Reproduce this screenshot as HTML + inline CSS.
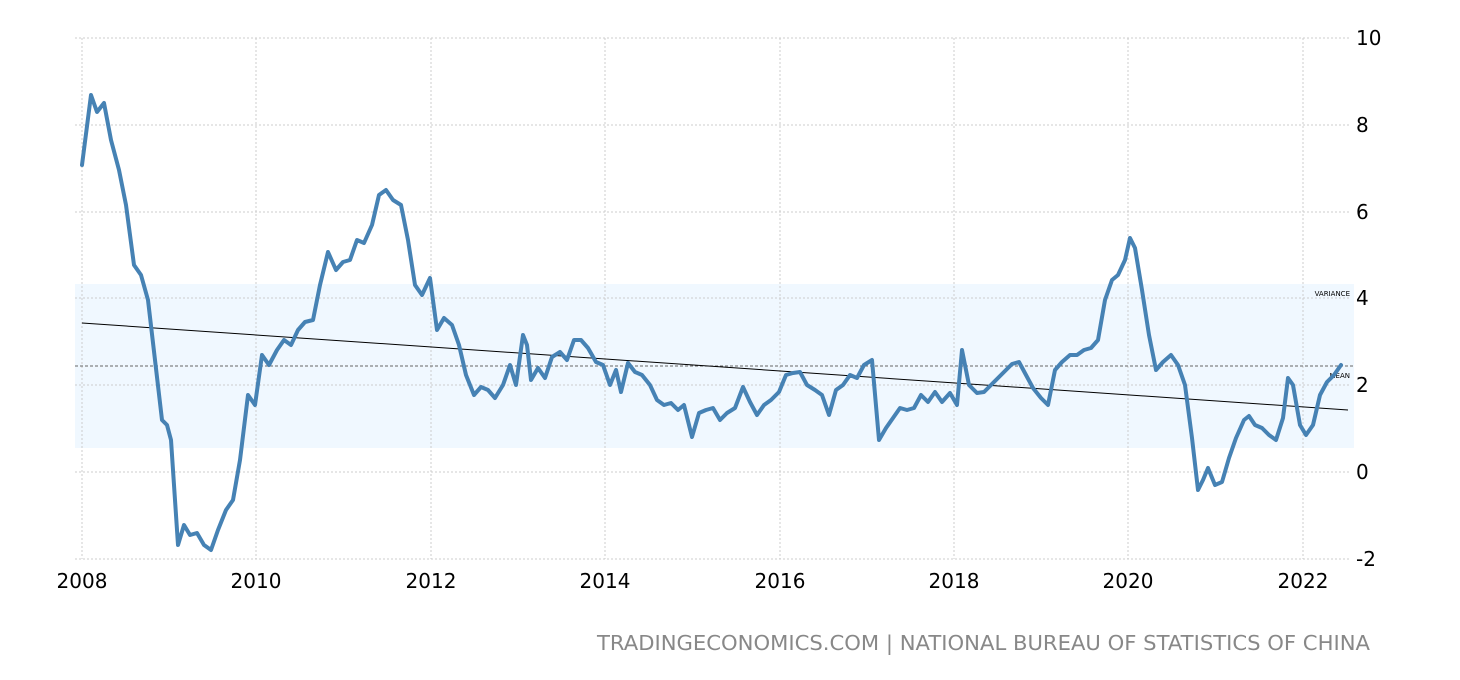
<!DOCTYPE html>
<html><head><meta charset="utf-8"><style>
body{margin:0;background:#fff}
svg{display:block;font-family:"DejaVu Sans","Liberation Sans",sans-serif}
</style></head><body>
<svg width="1460" height="680" viewBox="0 0 1460 680">
<rect x="75" y="284" width="1279" height="164" fill="#f0f8ff"/>
<g stroke="#ccc" stroke-dasharray="2,2" stroke-width="1">
<line x1="75" y1="38" x2="1350" y2="38"/><line x1="75" y1="125" x2="1350" y2="125"/>
<line x1="75" y1="212" x2="1350" y2="212"/><line x1="75" y1="298" x2="1350" y2="298"/>
<line x1="75" y1="385" x2="1350" y2="385"/><line x1="75" y1="472" x2="1350" y2="472"/>
<line x1="75" y1="559" x2="1350" y2="559"/>
<line x1="82" y1="38" x2="82" y2="559"/><line x1="256" y1="38" x2="256" y2="559"/>
<line x1="431" y1="38" x2="431" y2="559"/><line x1="605" y1="38" x2="605" y2="559"/>
<line x1="780" y1="38" x2="780" y2="559"/><line x1="954" y1="38" x2="954" y2="559"/>
<line x1="1128" y1="38" x2="1128" y2="559"/><line x1="1303" y1="38" x2="1303" y2="559"/>
</g>
<line x1="75" y1="366" x2="1354" y2="366" stroke="#666" stroke-dasharray="3,2" stroke-width="1"/>
<text x="1350" y="296" font-size="7" text-anchor="end" fill="#000">VARIANCE</text>
<text x="1350" y="378" font-size="7" text-anchor="end" fill="#000">MEAN</text>
<line x1="82" y1="323" x2="1348" y2="410" stroke="#000" stroke-width="1"/>
<polyline fill="none" stroke="#4682b4" stroke-width="4" stroke-linejoin="round" stroke-linecap="round" points="82,165 91,95 97,112 104,103 111,140 119,170 126,205 134,265 141,275 148,300 155,360 162,420 167,425 171,440 178,545 184,525 190,535 197,533 204,545 211,550 218,530 226,510 233,500 240,460 248,395 255,405 262,355 269,365 277,350 284,340 291,345 298,330 305,322 313,320 320,285 328,252 336,270 343,262 350,260 357,240 364,243 372,225 379,195 386,190 393,200 401,205 408,240 415,285 422,295 430,278 437,330 444,318 452,325 459,345 466,375 474,395 481,387 488,390 495,398 503,385 510,365 516,385 523,335 527,345 531,380 538,368 545,378 552,357 560,352 567,360 574,340 581,340 588,348 596,362 603,365 610,385 616,370 621,392 628,363 635,372 642,375 650,385 657,400 664,405 671,403 678,410 684,405 692,437 699,413 706,410 713,408 720,420 727,413 735,408 743,387 750,402 757,415 764,405 771,400 779,392 786,375 793,373 800,372 807,385 815,390 822,395 829,415 836,390 843,385 850,375 857,378 864,365 872,360 879,440 886,428 893,418 900,408 907,410 914,408 921,395 928,402 935,392 942,402 950,393 957,405 962,350 969,385 977,393 984,392 991,385 998,378 1005,371 1012,364 1019,362 1026,375 1033,388 1041,398 1048,405 1055,370 1062,362 1070,355 1077,355 1084,350 1091,348 1098,340 1105,300 1112,280 1118,275 1125,260 1130,238 1135,248 1142,290 1149,335 1156,370 1163,362 1171,355 1178,365 1185,385 1192,438 1198,490 1203,480 1208,468 1215,485 1222,482 1229,458 1236,438 1244,420 1249,416 1255,425 1262,428 1269,435 1276,440 1283,418 1288,378 1293,385 1300,425 1306,435 1313,425 1320,395 1327,382 1334,375 1341,365"/>
<g font-size="20" fill="#000">
<text x="1356" y="45">10</text><text x="1356" y="132">8</text><text x="1356" y="219">6</text>
<text x="1356" y="305">4</text><text x="1356" y="392">2</text><text x="1356" y="479">0</text>
<text x="1356" y="566">-2</text>
</g>
<g font-size="20" fill="#000" text-anchor="middle">
<text x="82" y="588">2008</text><text x="256" y="588">2010</text><text x="431" y="588">2012</text>
<text x="605" y="588">2014</text><text x="780" y="588">2016</text><text x="954" y="588">2018</text>
<text x="1128" y="588">2020</text><text x="1303" y="588">2022</text>
</g>
<text x="597" y="650" font-size="20" fill="#888" textLength="773" lengthAdjust="spacingAndGlyphs">TRADINGECONOMICS.COM | NATIONAL BUREAU OF STATISTICS OF CHINA</text>
</svg>
</body></html>
